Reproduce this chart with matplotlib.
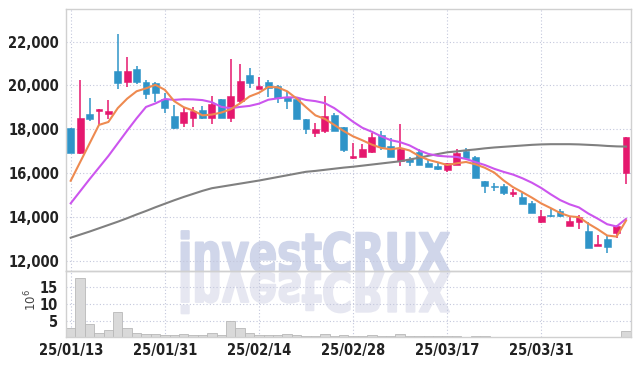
import os
import numpy as np
import matplotlib.pyplot as plt
import matplotlib.font_manager as fm
from matplotlib.font_manager import FontProperties
from matplotlib.textpath import TextPath
from matplotlib.patheffects import AbstractPathEffect
from matplotlib.transforms import Affine2D
from matplotlib.ticker import FuncFormatter

# daily prices (KRW)
opens = [18050, 16930, 18700, 18840, 18680, 20660, 20150, 20750, 20170, 20100,
         19380, 18610, 18270, 18530, 18880, 18530, 19380, 18530, 19290, 20480,
         19840, 20150, 19980, 19460, 19370, 18460, 17820, 17940, 18650, 18090,
         16680, 16750, 16980, 17740, 17240, 16570, 16630, 16980, 16470, 16320,
         16140, 16370, 17020, 16720, 15650, 15410, 15410, 15030, 14920, 14650,
         13780, 14090, 14270, 13600, 13780, 13370, 12690, 12990, 13250, 15990]
highs = [18050, 20250, 19440, 18930, 19340, 22340, 21290, 20890, 20250, 20170,
         19640, 19110, 18960, 19030, 19080, 19530, 19380, 21210, 20970, 20780,
         20400, 20250, 20020, 19720, 19400, 18460, 18270, 19520, 18730, 18100,
         17390, 17330, 17850, 17940, 17590, 18240, 16750, 17090, 16600, 16450,
         16480, 17090, 17130, 16780, 15650, 15530, 15500, 15260, 15100, 14740,
         14310, 14350, 14350, 14040, 14090, 13780, 13170, 13130, 13630, 17630]
lows = [16930, 16860, 18390, 18200, 18470, 19830, 19950, 20050, 19380, 19230,
        18730, 18010, 18120, 18120, 18470, 18230, 18530, 18320, 19190, 19870,
        19830, 19490, 19190, 18910, 18460, 17790, 17660, 17820, 17940, 16980,
        16630, 16750, 16900, 17060, 16750, 16320, 16320, 16370, 16290, 16140,
        16060, 16370, 16680, 15760, 15100, 15180, 15000, 14920, 14590, 14190,
        13710, 13980, 13980, 13600, 13430, 12570, 12690, 12340, 13020, 15500]
closes = [16930, 18500, 18470, 18930, 18840, 20100, 20660, 20150, 19600, 19640,
          18960, 18070, 18780, 18840, 18530, 19140, 18530, 19530, 20200, 20100,
          19980, 19870, 19420, 19300, 18460, 18000, 18000, 18610, 17940, 17060,
          16780, 17090, 17630, 17180, 16750, 17090, 16520, 16370, 16290, 16200,
          16470, 16900, 16680, 15760, 15410, 15370, 15100, 15150, 14590, 14190,
          14040, 14040, 14040, 13830, 13980, 12570, 12760, 12610, 13580, 17630]

# moving average lines
ma5 = [15650, 16500, 17350, 18200, 18334, 18968, 19400, 19736, 19870, 20030,
       19802, 19284, 19010, 18858, 18636, 18672, 18764, 18914, 19186, 19500,
       19668, 19936, 19914, 19734, 19406, 19010, 18636, 18474, 18202, 17922,
       17678, 17496, 17300, 17148, 17086, 17148, 17034, 16782, 16604, 16494,
       16370, 16446, 16508, 16402, 16244, 16024, 15664, 15358, 15124, 14880,
       14614, 14402, 14180, 14028, 13986, 13692, 13436, 13150, 13100, 13830]
ma10 = [14620, 15170, 15720, 16250, 16780, 17360, 17940, 18500, 19020, 19182,
        19385, 19342, 19373, 19364, 19333, 19237, 19024, 18962, 19022, 19068,
        19170, 19350, 19414, 19460, 19453, 19339, 19286, 19194, 18968, 18664,
        18344, 18066, 17887, 17675, 17504, 17413, 17265, 17041, 16876, 16790,
        16759, 16740, 16645, 16503, 16369, 16197, 16055, 15933, 15763, 15562,
        15319, 15033, 14769, 14576, 14433, 14153, 13919, 13665, 13564, 13908]
ma_long = [13050, 13190, 13330, 13480, 13630, 13780, 13940, 14110, 14270, 14440,
           14600, 14760, 14910, 15050, 15190, 15310, 15380, 15450, 15520, 15590,
           15660, 15740, 15820, 15900, 15980, 16060, 16100, 16150, 16200, 16250,
           16290, 16340, 16390, 16440, 16490, 16540, 16620, 16700, 16790, 16870,
           16950, 16990, 17040, 17080, 17130, 17170, 17200, 17230, 17260, 17290,
           17310, 17320, 17320, 17320, 17310, 17290, 17270, 17240, 17220, 17210]

# volume, millions of shares
volume = [2.8, 17.5, 4.0, 1.3, 2.2, 7.7, 2.8, 1.3, 1.0, 1.0,
          0.7, 0.7, 1.0, 0.7, 0.7, 1.3, 0.7, 4.8, 2.8, 1.3,
          0.7, 0.7, 0.7, 1.0, 0.8, 0.5, 0.5, 1.0, 0.5, 0.7,
          0.3, 0.3, 0.7, 0.4, 0.4, 0.9, 0.4, 0.4, 0.3, 0.3,
          0.3, 0.5, 0.2, 0.5, 0.5, 0.05, 0.05, 0.05, 0.05, 0.05,
          0.05, 0.05, 0.05, 0.05, 0.05, 0.05, 0.05, 0.05, 0.05, 1.9]

tick_pos = [0, 10, 20, 30, 40, 50]
tick_labels = ['25/01/13', '25/01/31', '25/02/14', '25/02/28', '25/03/17', '25/03/31']

UP = '#e5186e'
DOWN = '#2f94c8'
GRID = '#c3c7dc'
SPINE = '#d0d0d0'


# the labels are a bold narrow face; use the narrowest bold one installed
def pick_label_font():
    cands = [('Liberation Sans Narrow', 'normal', True), ('DejaVu Sans', 'condensed', True),
             ('Noto Sans', 'condensed', True), ('Roboto Condensed', 'normal', True),
             ('Noto Sans', 'normal', False), ('Lato', 'normal', False),
             ('Roboto', 'normal', False), ('Open Sans', 'normal', False),
             ('Liberation Sans', 'normal', False)]
    for fam, st, narrow in cands:
        try:
            path = fm.findfont(FontProperties(family=fam, weight='bold', stretch=st),
                               fallback_to_default=False)
        except Exception:
            continue
        name = os.path.basename(path).lower()
        if 'bold' not in name:
            continue
        if narrow and 'condensed' not in name and 'narrow' not in name:
            continue
        return fam, st, narrow
    return 'DejaVu Sans', 'normal', False


lab_fam, lab_st, lab_narrow = pick_label_font()
y_size = 10.5 if lab_narrow else 10
x_size = 10.5 if lab_narrow else 9


class Squeeze(AbstractPathEffect):
    """draw the text path scaled about an anchor point (display px)"""
    def __init__(self, sx, sy, x0, y0, lw=0.0):
        super().__init__()
        self.t = Affine2D().translate(-x0, -y0).scale(sx, sy).translate(x0, y0)
        self.lw = lw

    def draw_path(self, renderer, gc, tpath, affine, rgbFace=None):
        gc0 = renderer.new_gc()
        gc0.copy_properties(gc)
        gc0.set_linewidth(self.lw)
        gc0.set_foreground(rgbFace)
        renderer.draw_path(gc0, tpath, affine + self.t, rgbFace)
        gc0.restore()


x = np.arange(len(closes))
o = np.array(opens)
c = np.array(closes)
cols = [UP if cc >= oo else DOWN for oo, cc in zip(o, c)]

W, H = 639, 366
fig = plt.figure(figsize=(W / 100, H / 100), dpi=100)
ax = fig.add_axes([0.1033, 0.2582, 0.8837, 0.7164])
axv = fig.add_axes([0.1033, 0.0779, 0.8837, 0.1803], sharex=ax)

# watermark + its reflection, behind both panels
wm = 'investCRUX'
wm_pt = 38
wm_fp = FontProperties(family='DejaVu Sans', weight='bold')
wm_w = TextPath((0, 0), wm, size=wm_pt * 100 / 72, prop=wm_fp).get_extents().width
cap_h = TextPath((0, 0), 'X', size=wm_pt * 100 / 72, prop=wm_fp).get_extents().y1
sx = 268 / wm_w
sy = 39 / cap_h
wx, wy = 178, H - 271.7
fig.text(wx / W, wy / H, wm, fontproperties=wm_fp, fontsize=wm_pt, color='#d0d6ea',
         ha='left', va='baseline', zorder=-1,
         path_effects=[Squeeze(sx, sy, wx, wy, lw=1.4)])
fig.text(wx / W, (wy - 1) / H, wm, fontproperties=wm_fp, fontsize=wm_pt, color='#e6e7f1',
         ha='left', va='baseline', zorder=-1,
         path_effects=[Squeeze(sx, -sy, wx, wy - 1, lw=1.4)])

for a in (ax, axv):
    a.set_facecolor('none')
    a.grid(True, color=GRID, linestyle=(0, (1, 2)), linewidth=0.8)
    a.set_axisbelow(True)
    for s in a.spines.values():
        s.set_color(SPINE)
        s.set_linewidth(1)
    a.tick_params(length=0, labelsize=y_size, labelcolor='#222')

# candles
ax.vlines(x, lows, highs, colors=cols, linewidth=1.1, zorder=2)
body = np.where(np.abs(c - o) < 30, 30, c - o)
ax.bar(x, body, bottom=o, width=0.72, color=cols, edgecolor=cols, linewidth=0.4, zorder=3)

ax.plot(x, ma_long, color='#808080', linewidth=1.5, zorder=4)
ax.plot(x, ma10, color='#cc55ee', linewidth=1.5, zorder=4)
ax.plot(x, ma5, color='#ee8a50', linewidth=1.5, zorder=4)

ax.set_xlim(-0.5, 59.5)
ax.set_ylim(11507, 23479)
ax.set_yticks(np.arange(12000, 22001, 2000))
ax.yaxis.set_major_formatter(FuncFormatter(lambda v, p: f'{int(v):,}'))
ax.tick_params(axis='y', pad=5)
ax.tick_params(axis='x', labelbottom=False)
for t in ax.get_yticklabels():
    t.set_family(lab_fam)
    t.set_stretch(lab_st)
    t.set_weight('bold')

# volume
axv.bar(x, volume, width=1.0, color='#d9d9d9', edgecolor='#b8b8b8', linewidth=0.6)
axv.set_ylim(0, 19.56)
axv.set_yticks([5, 10, 15])
axv.set_xticks(tick_pos)
axv.set_xticklabels(tick_labels)
axv.tick_params(axis='y', pad=6)
axv.tick_params(axis='x', pad=4, labelsize=x_size)
for t in axv.get_yticklabels() + axv.get_xticklabels():
    t.set_family(lab_fam)
    t.set_stretch(lab_st)
    t.set_weight('bold')
fig.text(31 / W, 1 - 300 / H, r'$10^{6}$', rotation=90, ha='center', va='center',
         fontsize=8.5, color='#444')

fig.savefig('out.png', dpi=100)
